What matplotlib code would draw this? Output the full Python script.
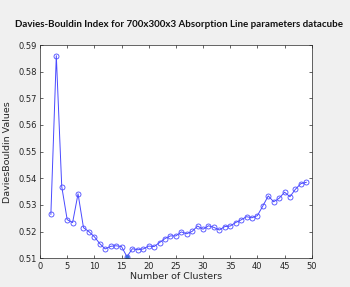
import matplotlib
matplotlib.use("Agg")
import matplotlib.pyplot as plt

# Davies-Bouldin values
clusters = list(range(2, 50))
db_values = [0.5265, 0.586, 0.5369, 0.5245, 0.5234, 0.5342, 0.5215, 0.5200,
             0.5181, 0.5155, 0.5135, 0.5145, 0.5147, 0.5144, 0.5106, 0.5136,
             0.5132, 0.5135, 0.5146, 0.5144, 0.5159, 0.5174, 0.5184, 0.5184,
             0.5199, 0.5192, 0.5201, 0.5221, 0.5209, 0.5222, 0.5216, 0.5206,
             0.5219, 0.5221, 0.5234, 0.5244, 0.5256, 0.5252, 0.5260, 0.5296,
             0.5334, 0.5312, 0.5325, 0.5348, 0.5331, 0.5359, 0.5380, 0.5385]
best_k = 16

fig = plt.figure(figsize=(3.5, 2.87), dpi=100, facecolor="#f0f0f0")
ax = fig.add_axes([0.1143, 0.1, 0.7763, 0.7432])

ax.plot(clusters, db_values, color="#4a4aff", lw=0.7, marker="o",
        markersize=3.6, markerfacecolor="none", markeredgewidth=0.6)
i = clusters.index(best_k)
ax.plot(clusters[i], db_values[i], "o", color="#3a6fd8", markersize=2)

ax.set_xlim(0, 50)
ax.set_ylim(0.51, 0.59)
ax.set_xticks(range(0, 51, 5))
ax.set_yticks([0.51 + 0.01 * k for k in range(9)])
ax.set_yticklabels([f"{0.51 + 0.01 * k:.2f}" for k in range(9)])
ax.tick_params(direction="in", length=2, width=0.5, labelsize=6,
               colors="#262626", top=True, right=True, pad=2.5)
for s in ax.spines.values():
    s.set_color("#262626")
    s.set_linewidth(0.5)

ax.set_xlabel("Number of Clusters", fontsize=6.8, color="#262626", labelpad=1)
ax.set_ylabel("DaviesBouldin Values", fontsize=6.8, color="#262626", labelpad=4)

fig.text(0.511, 0.913, "Davies-Bouldin Index for 700x300x3 Absorption Line parameters datacube",
         ha="center", va="center", fontsize=7.0, fontweight="bold",
         family="Lato", color="#111111")

fig.savefig("out.png", dpi=100, facecolor=fig.get_facecolor())
